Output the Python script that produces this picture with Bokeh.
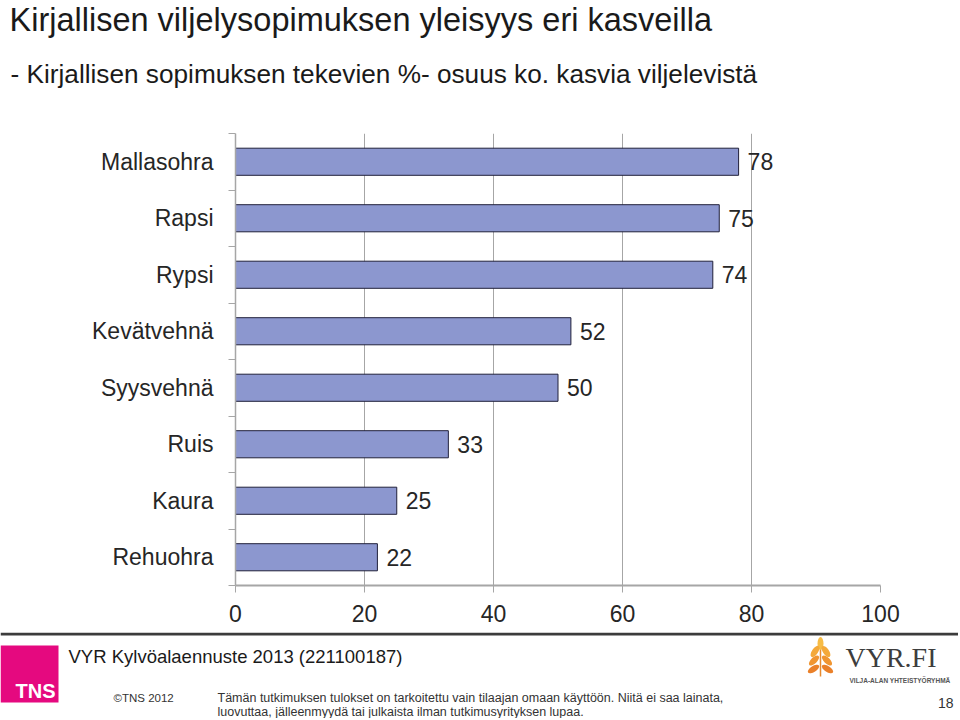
from bokeh.plotting import figure
from bokeh.models import Range1d, FixedTicker
from bokeh.layouts import column
from bokeh.embed import file_html
from bokeh.resources import INLINE
from bokeh.core.properties import value

# ---------------- data ----------------
categories = ["Rehuohra", "Kaura", "Ruis", "Syysvehnä", "Kevätvehnä", "Rypsi", "Rapsi", "Mallasohra"]
shares = [22, 25, 33, 50, 52, 74, 75, 78]
x_ticks = [0, 20, 40, 60, 80, 100]

title_text = "Kirjallisen viljelysopimuksen yleisyys eri kasveilla"
subtitle_text = "- Kirjallisen sopimuksen tekevien %- osuus ko. kasvia viljelevistä"
source_text = "VYR Kylvöalaennuste 2013 (221100187)"
copyright_text = "©TNS 2012"
disclaimer_lines = [
    "Tämän tutkimuksen tulokset on tarkoitettu vain tilaajan omaan käyttöön. Niitä ei saa  lainata,",
    "luovuttaa, jälleenmyydä tai julkaista ilman tutkimusyrityksen lupaa.",
]
page_number = "18"

FONT = "Liberation Sans"
W = 958
H_TOP, H_MAIN, H_FOOT = 123, 509, 86


def blank(h):
    f = figure(width=W, height=h, x_range=Range1d(0, W), y_range=Range1d(h, 0),
               output_backend="svg", toolbar_location=None,
               x_axis_type=None, y_axis_type=None, min_border=0,
               outline_line_color=None, frame_align=False)
    return f


# ---------------- header ----------------
top = blank(H_TOP)
top.text(x=[9], y=[19], text=[title_text], text_font=value(FONT), text_font_size="32.5px",
         text_color="#1a1a1a", text_baseline="middle")
top.text(x=[10], y=[73], text=[subtitle_text], text_font=value(FONT), text_font_size="26.2px",
         text_color="#1a1a1a", text_baseline="middle")

# ---------------- chart ----------------
ys = [i + 0.5 for i in range(len(categories))]
p = figure(width=W, height=H_MAIN, x_range=Range1d(0, 100), y_range=Range1d(0, len(categories)),
           output_backend="svg", toolbar_location=None,
           min_border_left=235, min_border_right=78, min_border_top=10, min_border_bottom=47,
           outline_line_color=None, frame_align=False)

p.hbar(y=ys, left=0, right=shares, height=0.48, fill_color="#8C97CF",
       line_color="#20203a", line_width=1)
p.text(x=shares, y=ys, text=[str(v) for v in shares], x_offset=9,
       text_font=value(FONT), text_font_size="23px", text_color="#262626",
       text_baseline="middle", text_align="left")

xt = FixedTicker(ticks=x_ticks)
p.xaxis.ticker = xt
p.xgrid.ticker = xt
p.xgrid.grid_line_color = "#a6a6a6"
p.ygrid.visible = False
p.xaxis.axis_line_color = "#a6a6a6"
p.xaxis.axis_line_width = 2
p.xaxis.major_tick_line_color = "#a6a6a6"
p.xaxis.major_tick_out = 7
p.xaxis.major_tick_in = 0
p.xaxis.minor_tick_line_color = None
p.xaxis.major_label_standoff = 12
p.xaxis.major_label_text_font = FONT
p.xaxis.major_label_text_font_size = "23px"
p.xaxis.major_label_text_color = "#262626"

p.yaxis.ticker = FixedTicker(ticks=ys, minor_ticks=list(range(len(categories) + 1)))
p.yaxis.major_label_overrides = {y: c for y, c in zip(ys, categories)}
p.yaxis.axis_line_color = "#a6a6a6"
p.yaxis.axis_line_width = 1.5
p.yaxis.major_tick_line_color = None
p.yaxis.major_tick_out = 0
p.yaxis.major_tick_in = 0
p.yaxis.minor_tick_line_color = "#a6a6a6"
p.yaxis.minor_tick_out = 7
p.yaxis.minor_tick_in = 0
p.yaxis.major_label_standoff = 15
p.yaxis.major_label_text_font = FONT
p.yaxis.major_label_text_font_size = "23px"
p.yaxis.major_label_text_color = "#262626"

# ---------------- footer ----------------
foot = blank(H_FOOT)
foot.line(x=[0, W], y=[1.5, 1.5], line_color="#3c3c3c", line_width=3)
# TNS logo
foot.quad(left=[0], right=[58], top=[13], bottom=[70], fill_color="#E5097F", line_color=None)
foot.text(x=[15], y=[58], text=["TNS"], text_font=value(FONT), text_font_style="bold",
          text_font_size="20px", text_color="white", text_baseline="middle")
foot.text(x=[68], y=[24], text=[source_text], text_font=value(FONT), text_font_size="18.5px",
          text_color="#1a1a1a", text_baseline="middle")
foot.text(x=[113], y=[65], text=[copyright_text], text_font=value(FONT), text_font_size="11.5px",
          text_color="#333333", text_baseline="middle")
foot.text(x=[217, 217], y=[65, 79.5], text=disclaimer_lines, text_font=value(FONT),
          text_font_size="12.5px", text_color="#333333", text_baseline="middle")
foot.text(x=[953], y=[70], text=[page_number], text_font=value(FONT), text_font_size="14px",
          text_color="#333333", text_baseline="middle", text_align="right")
# VYR.FI logo (decorative)
foot.line(x=[820, 820], y=[15, 44], line_color="#E88A2E", line_width=1.5)
foot.ellipse(x=[820], y=[11], width=6, height=13, fill_color="#F7BC45", line_color=None)
for gy, lx, rx, ang, col in [(19, 814.5, 825.5, 0.6, "#F4A93A"),
                             (28, 813.5, 826.5, 0.8, "#F09531"),
                             (36.5, 813, 827, 1.0, "#EA8029")]:
    foot.ellipse(x=[lx, rx], y=[gy, gy], width=6, height=13, angle=[-ang, ang],
                 fill_color=col, line_color=None)
foot.text(x=[845], y=[25], text=["VYR.FI"], text_font=value("Liberation Serif"),
          text_font_size="28px", text_color="#3d3d3d", text_baseline="middle")
foot.text(x=[849], y=[48], text=["VILJA-ALAN YHTEISTYÖRYHMÄ"], text_font=value(FONT),
          text_font_style="bold", text_font_size="6.5px", text_color="#555555",
          text_baseline="middle")

layout = column(top, p, foot, spacing=0)
open("out.html", "w").write(file_html(layout, INLINE))
